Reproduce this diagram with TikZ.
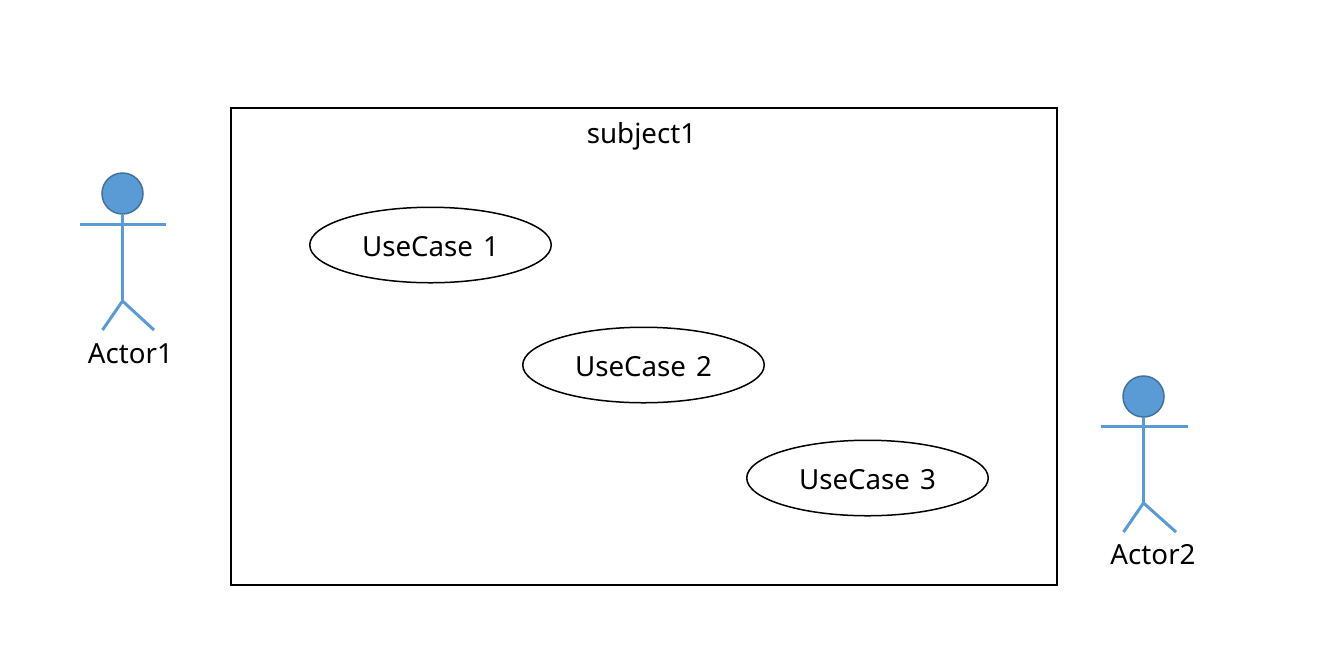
\documentclass[tikz,border=0pt]{standalone}
\usepackage{fontspec}
\setmainfont[WordSpace=1.4]{Noto Sans}
\usetikzlibrary{shapes.geometric}
\usetikzlibrary{positioning}
\definecolor{actorline}{HTML}{5B9BD5}
\definecolor{actoredge}{HTML}{41719C}
\tikzset{
    usecase/.style={
           ellipse,
           draw=black, line width=1.5pt,
           minimum width=241.5pt,
           minimum height=75.5pt,
           inner sep=0pt,
           text height=23pt,
           text depth=0pt,
           font=\fontsize{27.7}{33}\selectfont,
           },
    head/.style={
           circle,
           draw=actoredge, fill=actorline, line width=1.5pt,
           minimum size=41pt,
           inner sep=0pt,
           },
    limb/.style={
           draw=actorline, line width=3pt,
           },
    caption/.style={
           inner sep=0pt,
           font=\fontsize{27.7}{33}\selectfont,
           },
}

\begin{document}
\begin{tikzpicture}[x=1pt,y=-1pt]
  \useasboundingbox (0,0) rectangle (1322,657);

  % system box
  \node[draw=black, line width=1.5pt, minimum width=826pt, minimum height=477pt,
    inner sep=0pt] (SUBJECT) at (644,346.5) {};
  \node[caption] (SUBJECTLABEL) at (641.5,136) {subject1};

  % use cases
  \node[usecase] (UC1) at (430.5,245) {UseCase 1};
  \node[usecase] (UC2) at (643.5,365) {UseCase 2};
  \node[usecase] (UC3) at (867.5,478) {UseCase 3};

  % left actor
  \node[head] (HEADA) at (122.5,193.5) {};
  \coordinate (HANDLA) at (79.5,224);
  \coordinate (HANDRA) at (166,224);
  \coordinate (HIPA) at (122.5,301);
  \coordinate (FOOTLA) at (102.5,330);
  \coordinate (FOOTRA) at (154,330);
  \draw[limb] (HEADA) -- (HIPA);
  \draw[limb] (HANDLA) -- (HANDRA);
  \draw[limb] (FOOTLA) -- (HIPA) -- (FOOTRA);
  \node[caption] (ACTORA) at (130.5,354) {Actor1};

  % right actor
  \node[head] (HEADB) at (1143.5,396.5) {};
  \coordinate (HANDLB) at (1101,426);
  \coordinate (HANDRB) at (1188,426);
  \coordinate (HIPB) at (1143.5,503);
  \coordinate (FOOTLB) at (1123.5,532);
  \coordinate (FOOTRB) at (1176,532);
  \draw[limb] (HEADB) -- (HIPB);
  \draw[limb] (HANDLB) -- (HANDRB);
  \draw[limb] (FOOTLB) -- (HIPB) -- (FOOTRB);
  \node[caption] (ACTORB) at (1153,555) {Actor2};

\end{tikzpicture}
\end{document}
